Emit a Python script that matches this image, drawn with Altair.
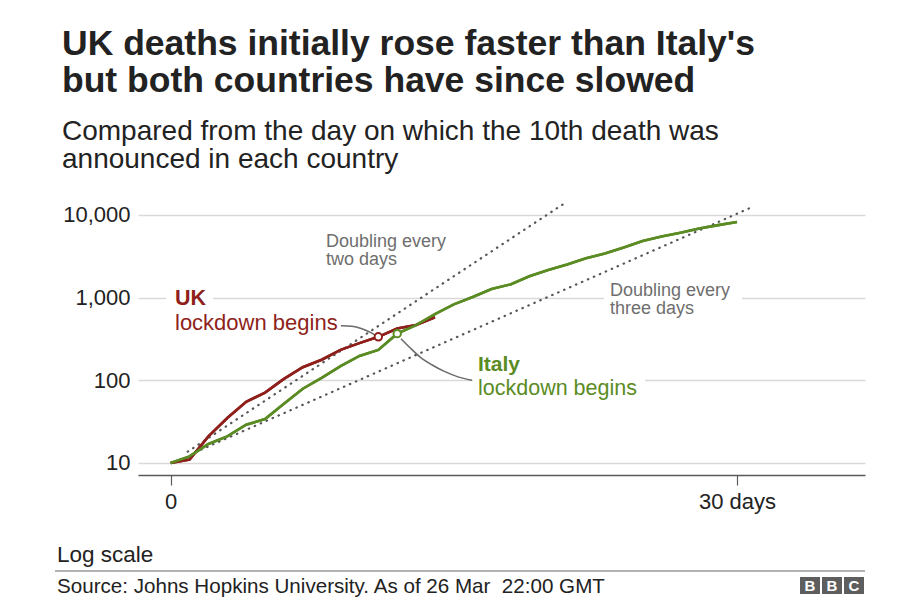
import altair as alt
import pandas as pd

F = "Liberation Sans"
UK_C = "#8e1f1b"
IT_C = "#5b8c24"
GRAY_T = "#6e6e6e"
DARK = "#222222"

# ---- data ----
uk_days = list(range(15))
uk_deaths = [10, 11, 21, 35, 55, 71, 104, 144, 177, 233, 281, 335, 422, 465, 578]
it_days = list(range(31))
it_deaths = [10, 12, 17, 21, 29, 34, 52, 79, 107, 148, 197, 233, 366, 463, 631,
             827, 1016, 1266, 1441, 1809, 2158, 2503, 2978, 3405, 4032, 4825,
             5476, 6077, 6820, 7503, 8165]
lock_country = ["UK", "Italy"]
lock_days = [11, 12]
lock_deaths = [335, 366]
dbl2_days = [0.9, 20.8]
dbl2_vals = [13.7, 13500]
dbl3_days = [1.3, 30.8]
dbl3_vals = [13.5, 12400]
uk_conn_days = [9.02, 9.6, 10.13, 10.61, 10.88]
uk_conn_vals = [456, 450, 420, 376, 347]
it_conn_days = [12.2, 12.68, 13.2, 13.83, 14.53, 15.22, 15.96]
it_conn_vals = [318, 247, 192, 154, 127, 110, 100]
y_ticks = [10, 100, 1000, 10000]
x_ticks = [0, 30]

# ---- tables ----
series = pd.concat([
    pd.DataFrame({"country": "UK", "day": uk_days, "deaths": uk_deaths}),
    pd.DataFrame({"country": "Italy", "day": it_days, "deaths": it_deaths}),
])
locks = pd.DataFrame({"country": lock_country, "day": lock_days, "deaths": lock_deaths})
dbl = pd.concat([
    pd.DataFrame({"ref": "two", "day": dbl2_days, "deaths": dbl2_vals}),
    pd.DataFrame({"ref": "three", "day": dbl3_days, "deaths": dbl3_vals}),
])
conn = pd.concat([
    pd.DataFrame({"ref": "uk", "day": uk_conn_days, "deaths": uk_conn_vals}),
    pd.DataFrame({"ref": "it", "day": it_conn_days, "deaths": it_conn_vals}),
])
one = pd.DataFrame({"k": [0]})

W, H = 727, 275
OX, OY = 138, 200  # page position of plot origin

xs = alt.Scale(domain=[-1.73, 36.78], nice=False, zero=False)
ys = alt.Scale(type="log", domain=[7.16, 15100], nice=False)
xaxis = alt.Axis(values=x_ticks, labelExpr="datum.value == 30 ? '30 days' : '0'",
                 grid=False, domain=True, domainColor="#5a5a5a", domainWidth=1.5,
                 tickColor="#5a5a5a", tickWidth=1.2, tickSize=10, labelPadding=6,
                 labelFontSize=22, labelFont=F, labelColor=DARK, title=None)
yaxis = alt.Axis(values=y_ticks, format=",d", grid=True, gridColor="#d9d9d9",
                 gridWidth=1.5, domain=False, ticks=False, labelPadding=8,
                 labelFontSize=22, labelFont=F, labelColor=DARK, title=None)
X = alt.X("day:Q", scale=xs, axis=xaxis)
Y = alt.Y("deaths:Q", scale=ys, axis=yaxis)
cscale = alt.Scale(domain=["UK", "Italy"], range=[UK_C, IT_C])


def txt(s, px, py, size, color, weight="normal", align="left"):
    return alt.Chart(one).mark_text(
        text=s, align=align, baseline="alphabetic", fontSize=size, font=F,
        color=color, fontWeight=weight
    ).encode(x=alt.value(px - OX), y=alt.value(py - OY))


def box(x1, y1, x2, y2, color):
    return alt.Chart(one).mark_rect(color=color).encode(
        x=alt.value(x1 - OX), x2=alt.value(x2 - OX),
        y=alt.value(y1 - OY), y2=alt.value(y2 - OY))


masks = [
    box(166, 292, 213, 304, "white"),
    box(604, 292, 742, 304, "white"),
    box(473, 375, 645, 387, "white"),
]

dbl_layer = alt.Chart(dbl).mark_line(
    color="#555555", strokeWidth=2.2, strokeDash=[0.5, 6], strokeCap="round"
).encode(x=X, y=Y, detail="ref:N")

conn_layer = alt.Chart(conn).mark_line(
    color="#6a6a6a", strokeWidth=1.5, interpolate="monotone"
).encode(x=X, y=Y, detail="ref:N")

lines = alt.Chart(series).mark_line(strokeWidth=2.6).encode(
    x=X, y=Y, color=alt.Color("country:N", scale=cscale, legend=None))

pts = alt.Chart(locks).mark_point(
    filled=True, fill="white", fillOpacity=1, size=55, strokeWidth=2, opacity=1
).encode(x=X, y=Y, stroke=alt.Stroke("country:N", scale=cscale, legend=None))

texts = [
    txt("UK deaths initially rose faster than Italy's", 62, 55, 35.5, DARK, "bold"),
    txt("but both countries have since slowed", 62, 91.5, 35.5, DARK, "bold"),
    txt("Compared from the day on which the 10th death was", 62, 140, 28, DARK),
    txt("announced in each country", 62, 168, 28, DARK),
    txt("Doubling every", 326, 247, 18, GRAY_T),
    txt("two days", 326, 265, 18, GRAY_T),
    txt("Doubling every", 610, 295.5, 18, GRAY_T),
    txt("three days", 610, 313.5, 18, GRAY_T),
    txt("UK", 175, 305, 21.5, UK_C, "bold"),
    txt("lockdown begins", 175, 330, 22, UK_C),
    txt("Italy", 478, 371, 21, IT_C, "bold"),
    txt("lockdown begins", 478, 394.5, 21.5, IT_C),
    txt("Log scale", 57, 562, 22.5, DARK),
    txt("Source: Johns Hopkins University. As of 26 Mar\u00a0 22:00 GMT", 57, 593, 20.6, DARK),
]

footer_rule = alt.Chart(one).mark_rule(color="#9a9a9a", strokeWidth=1.5).encode(
    x=alt.value(55 - OX), x2=alt.value(865 - OX), y=alt.value(571 - OY))

bbc = []
for i, letter in enumerate(["B", "B", "C"]):
    x0 = 800 + i * 22
    bbc.append(box(x0, 577, x0 + 20, 594, "#5e5e5e"))
    bbc.append(txt(letter, x0 + 10, 591, 15, "white", "bold", "center"))

chart = alt.layer(
    lines, *masks, dbl_layer, conn_layer, lines, pts, *texts, footer_rule, *bbc
).properties(
    width=W, height=H,
    autosize="none",
    background="white",
    padding={"left": OX - 8, "top": OY - 8, "right": 25, "bottom": 600 - (OY - 8) - H},
).configure_view(strokeWidth=0, stroke="transparent")

chart.save("out.html", embed_options={"renderer": "svg", "actions": False})
